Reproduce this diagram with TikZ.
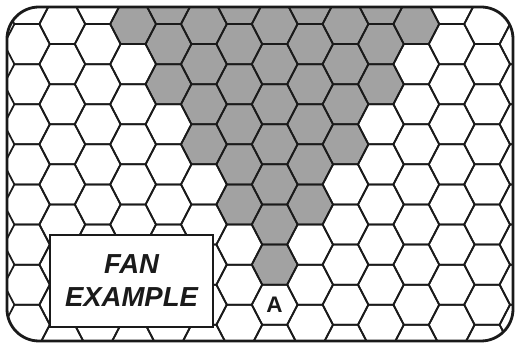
\documentclass[tikz,border=0pt]{standalone}
\usepackage{fontspec}
\setmainfont{Liberation Sans}
\definecolor{hexgray}{RGB}{162,162,162}
\definecolor{ink}{RGB}{26,26,26}
\begin{document}
\begin{tikzpicture}[x=1pt,y=-1pt,
  hexline/.style={draw=ink, line width=1.75pt, line join=miter},
  hexfill/.style={fill=hexgray},
  frame/.style={draw=ink, line width=2.8pt, rounded corners=32pt},
  labelbox/.style={draw=ink, fill=white, line width=1.9pt, minimum width=163pt, minimum height=92pt, inner sep=0pt},
  fantext/.style={font=\bfseries\itshape\fontsize{27.5}{33}\selectfont, align=center, text=ink},
  hexmark/.style={font=\bfseries\fontsize{22.5}{22.5}\selectfont, text=ink}]
\useasboundingbox (0,0) rectangle (517,344);
\fill[white] (0,0) rectangle (517,344);
\begin{scope}
  \clip[rounded corners=32pt] (7,7) rectangle (513,341);
  \foreach \k/\m in {2/0, 3/0,3/1,3/2, 4/0,4/1,4/2,4/3, 5/0,5/1,5/2,5/3,5/4,5/5, 6/0,6/1,6/2,6/3,6/4,6/5,6/6, 7/0,7/1,7/2,7/3,7/4,7/5, 8/0,8/1,8/2,8/3, 9/0,9/1,9/2, 10/0} {
    \pgfmathsetmacro\cx{62.3+35.4*\k}
    \pgfmathsetmacro\cy{24-20*mod(\k+2,2)+40.1*\m}
    \fill[hexfill, shift={(\cx,\cy)}] (-22.9,0) -- (-12.5,-20.05) -- (12.5,-20.05) -- (22.9,0) -- (12.5,20.05) -- (-12.5,20.05) -- cycle;
  }
  \foreach \k in {-1,...,13} {
    \foreach \m in {-1,...,9} {
      \pgfmathsetmacro\cx{62.3+35.4*\k}
      \pgfmathsetmacro\cy{24-20*mod(\k+2,2)+40.1*\m}
      \draw[hexline, shift={(\cx,\cy)}] (-22.9,0) -- (-12.5,-20.05) -- (12.5,-20.05) -- (22.9,0) -- (12.5,20.05) -- (-12.5,20.05) -- cycle;
    }
  }
\end{scope}
\node[labelbox] (fanbox) at (131.5,281) {};
\node[fantext] (fanlabel) at (fanbox.center) {FAN\\EXAMPLE};
\node[hexmark] (alabel) at (274.5,305) {A};
\draw[frame] (7,7) rectangle (513,341);
\end{tikzpicture}
\end{document}
